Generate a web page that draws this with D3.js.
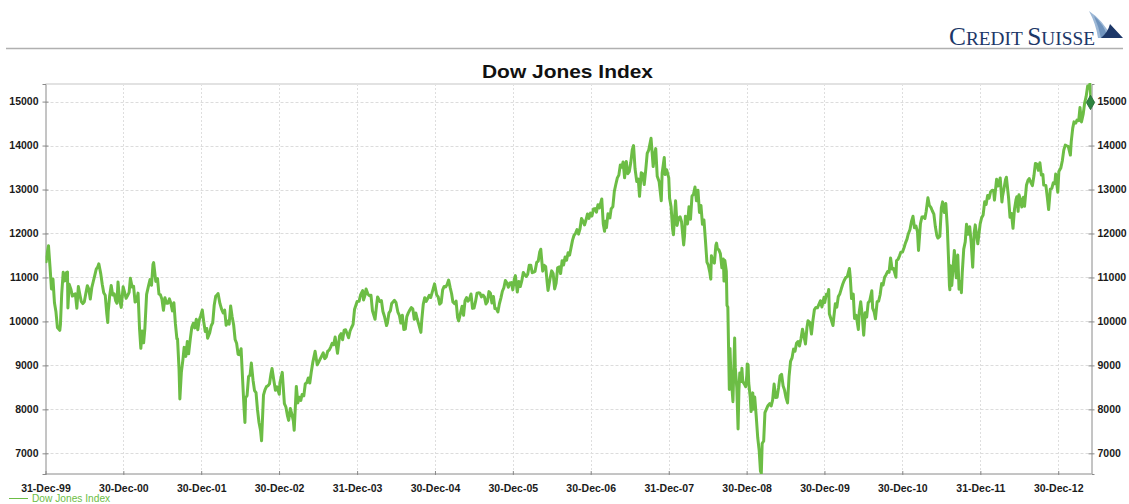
<!DOCTYPE html>
<html><head><meta charset="utf-8">
<script src="https://cdn.jsdelivr.net/npm/d3@7/dist/d3.min.js"></script>
<style>
html,body{margin:0;padding:0;background:#fff;}
svg{display:block;}
</style></head>
<body>
<svg id="chart" width="1129" height="504"></svg>
<script>
const chartTitle = "Dow Jones Index";
const seriesName = "Dow Jones Index";
const yTicks = [7000, 8000, 9000, 10000, 11000, 12000, 13000, 14000, 15000];
const xTickDates = ["1999-12-31","2000-12-30","2001-12-30","2002-12-30","2003-12-31","2004-12-30","2005-12-30","2006-12-30","2007-12-31","2008-12-30","2009-12-30","2010-12-30","2011-12-31","2012-12-30"];
const xTickLabels = ["31-Dec-99","30-Dec-00","30-Dec-01","30-Dec-02","31-Dec-03","30-Dec-04","30-Dec-05","30-Dec-06","31-Dec-07","30-Dec-08","30-Dec-09","30-Dec-10","31-Dec-11","30-Dec-12"];

const dates2000 = ["1999-12-31","2000-01-03","2000-01-07","2000-01-14","2000-01-21","2000-01-28","2000-02-04","2000-02-11","2000-02-18","2000-02-25","2000-03-07","2000-03-10","2000-03-16","2000-03-23","2000-03-31","2000-04-07","2000-04-12","2000-04-14","2000-04-20","2000-04-28","2000-05-05","2000-05-12","2000-05-19","2000-05-26","2000-06-02","2000-06-09","2000-06-16","2000-06-23","2000-06-30","2000-07-07","2000-07-14","2000-07-21","2000-07-28","2000-08-04","2000-08-11","2000-08-18","2000-08-25","2000-09-01","2000-09-06","2000-09-15","2000-09-22","2000-09-29","2000-10-06","2000-10-13","2000-10-18","2000-10-20","2000-10-27","2000-11-03","2000-11-10","2000-11-17","2000-11-24","2000-11-30","2000-12-05","2000-12-08","2000-12-15","2000-12-20","2000-12-29"];
const values2000 = [11497,11357,11522,11723,11251,10739,10963,10425,10219,9862,9796,9929,10630,11119,10922,11111,11125,10306,10844,10734,10577,10609,10627,10300,10794,10614,10449,10405,10448,10635,10813,10733,10511,10767,10908,11046,11192,11239,11310,11088,10847,10651,10596,10192,9975,10226,10590,10817,10602,10630,10470,10415,10898,10712,10434,10319,10787];

const dates2001 = ["2001-01-05","2001-01-12","2001-01-19","2001-01-26","2001-02-01","2001-02-09","2001-02-16","2001-02-23","2001-03-02","2001-03-09","2001-03-16","2001-03-22","2001-03-28","2001-04-04","2001-04-10","2001-04-18","2001-04-27","2001-05-04","2001-05-11","2001-05-18","2001-05-21","2001-05-31","2001-06-08","2001-06-15","2001-06-22","2001-06-29","2001-07-06","2001-07-13","2001-07-20","2001-07-27","2001-08-03","2001-08-10","2001-08-17","2001-08-24","2001-08-31","2001-09-07","2001-09-10","2001-09-17","2001-09-21","2001-09-28","2001-10-05","2001-10-11","2001-10-19","2001-10-26","2001-11-01","2001-11-09","2001-11-16","2001-11-23","2001-11-30","2001-12-07","2001-12-14","2001-12-21","2001-12-28"];
const values2001 = [10662,10525,10587,10659,10983,10781,10799,10441,10466,10644,9823,9389,9785,9515,9845,10615,10810,10951,10821,11301,11337,10911,10977,10623,10604,10502,10252,10539,10416,10416,10512,10416,10240,10423,9950,9606,9605,8921,8236,8848,9120,9410,9205,9545,9263,9609,9867,9960,9852,10049,9811,10035,10136];

const dates2002 = ["2002-01-04","2002-01-11","2002-01-18","2002-01-25","2002-01-29","2002-02-08","2002-02-15","2002-02-22","2002-03-01","2002-03-08","2002-03-15","2002-03-19","2002-03-28","2002-04-05","2002-04-12","2002-04-19","2002-04-26","2002-05-03","2002-05-10","2002-05-17","2002-05-24","2002-05-31","2002-06-07","2002-06-14","2002-06-21","2002-06-28","2002-07-05","2002-07-12","2002-07-19","2002-07-23","2002-07-26","2002-08-02","2002-08-09","2002-08-16","2002-08-22","2002-08-30","2002-09-06","2002-09-13","2002-09-20","2002-09-27","2002-10-04","2002-10-09","2002-10-18","2002-10-25","2002-11-01","2002-11-08","2002-11-15","2002-11-22","2002-11-27","2002-12-06","2002-12-13","2002-12-20","2002-12-31"];
const values2002 = [10259,9987,9771,9840,9618,9745,9903,9969,10368,10572,10608,10635,10404,10271,10191,10257,9911,10006,9939,10353,10105,9925,9589,9503,9253,9243,9380,8685,8019,7702,8264,8313,8745,8778,9053,8664,8427,8380,7987,7701,7528,7286,8322,8443,8517,8537,8579,8805,8931,8645,8433,8512,8342];

const dates2003 = ["2003-01-03","2003-01-14","2003-01-24","2003-01-31","2003-02-07","2003-02-13","2003-02-21","2003-02-28","2003-03-07","2003-03-11","2003-03-21","2003-03-28","2003-04-04","2003-04-11","2003-04-17","2003-04-25","2003-05-02","2003-05-09","2003-05-16","2003-05-23","2003-05-30","2003-06-06","2003-06-17","2003-06-27","2003-07-03","2003-07-14","2003-07-25","2003-08-01","2003-08-08","2003-08-15","2003-08-22","2003-08-29","2003-09-05","2003-09-12","2003-09-19","2003-09-30","2003-10-10","2003-10-17","2003-10-24","2003-10-31","2003-11-07","2003-11-21","2003-11-28","2003-12-05","2003-12-12","2003-12-19","2003-12-31"];
const values2003 = [8601,8842,8131,8054,7865,7749,8018,7891,7740,7524,8522,8146,8277,8203,8338,8307,8583,8604,8713,8601,8850,9062,9323,9012,9070,9178,9284,9153,9191,9321,9348,9416,9503,9471,9644,9275,9674,9722,9583,9801,9810,9629,9782,9862,9935,10278,10454];

const dates2004 = ["2004-01-09","2004-01-16","2004-01-26","2004-01-30","2004-02-06","2004-02-11","2004-02-20","2004-02-27","2004-03-05","2004-03-12","2004-03-24","2004-03-31","2004-04-05","2004-04-16","2004-04-23","2004-04-30","2004-05-07","2004-05-17","2004-05-21","2004-05-28","2004-06-04","2004-06-10","2004-06-23","2004-06-30","2004-07-09","2004-07-16","2004-07-23","2004-07-30","2004-08-06","2004-08-13","2004-08-20","2004-08-27","2004-09-03","2004-09-10","2004-09-17","2004-09-24","2004-10-01","2004-10-08","2004-10-15","2004-10-25","2004-10-29","2004-11-05","2004-11-12","2004-11-19","2004-11-26","2004-12-03","2004-12-10","2004-12-17","2004-12-28","2004-12-31"];
const values2004 = [10458,10601,10702,10488,10593,10737,10620,10584,10595,10240,10048,10358,10558,10452,10472,10225,10117,9906,9966,10188,10242,10410,10479,10435,10214,10140,9962,10140,9815,9825,10110,10195,10260,10314,10285,10047,10193,10055,9933,9750,10027,10387,10540,10457,10522,10592,10544,10661,10854,10783];

const dates2005 = ["2005-01-07","2005-01-14","2005-01-21","2005-01-28","2005-02-04","2005-02-11","2005-02-18","2005-02-25","2005-03-04","2005-03-11","2005-03-18","2005-03-24","2005-04-01","2005-04-08","2005-04-15","2005-04-20","2005-04-29","2005-05-06","2005-05-13","2005-05-20","2005-05-27","2005-06-03","2005-06-10","2005-06-17","2005-06-24","2005-07-01","2005-07-08","2005-07-15","2005-07-22","2005-07-29","2005-08-05","2005-08-12","2005-08-19","2005-08-26","2005-09-02","2005-09-09","2005-09-16","2005-09-23","2005-09-30","2005-10-07","2005-10-14","2005-10-21","2005-10-28","2005-11-04","2005-11-11","2005-11-18","2005-11-25","2005-12-02","2005-12-09","2005-12-16","2005-12-23","2005-12-30"];
const values2005 = [10603,10558,10393,10427,10716,10796,10785,10841,10940,10774,10629,10442,10404,10461,10088,10012,10193,10346,10140,10471,10542,10460,10512,10623,10297,10303,10449,10640,10651,10641,10558,10600,10559,10397,10447,10678,10642,10420,10569,10292,10287,10215,10402,10531,10686,10766,10931,10877,10778,10875,10883,10718];

const dates2006 = ["2006-01-06","2006-01-11","2006-01-20","2006-01-27","2006-02-03","2006-02-10","2006-02-17","2006-02-24","2006-03-03","2006-03-10","2006-03-17","2006-03-24","2006-03-31","2006-04-07","2006-04-13","2006-04-21","2006-04-28","2006-05-05","2006-05-10","2006-05-19","2006-05-26","2006-06-02","2006-06-09","2006-06-13","2006-06-23","2006-06-30","2006-07-07","2006-07-14","2006-07-21","2006-07-28","2006-08-04","2006-08-11","2006-08-18","2006-08-25","2006-09-01","2006-09-08","2006-09-15","2006-09-22","2006-09-29","2006-10-06","2006-10-13","2006-10-20","2006-10-27","2006-11-03","2006-11-10","2006-11-17","2006-11-24","2006-12-01","2006-12-08","2006-12-15","2006-12-22","2006-12-29"];
const values2006 = [10959,11043,10667,10907,10794,10920,11115,11062,11022,11076,11279,11280,11109,11121,11137,11347,11367,11578,11642,11144,11278,11247,10891,10706,10989,11150,11091,10739,10869,11219,11240,11088,11381,11284,11464,11392,11560,11509,11679,11850,11960,12002,12090,11986,12108,12342,12280,12194,12307,12445,12343,12463];

const dates2007 = ["2007-01-05","2007-01-12","2007-01-19","2007-01-26","2007-02-02","2007-02-09","2007-02-20","2007-02-27","2007-03-05","2007-03-09","2007-03-14","2007-03-21","2007-03-30","2007-04-05","2007-04-13","2007-04-20","2007-04-27","2007-05-04","2007-05-11","2007-05-18","2007-05-25","2007-05-31","2007-06-07","2007-06-15","2007-06-22","2007-06-29","2007-07-06","2007-07-13","2007-07-19","2007-07-26","2007-08-03","2007-08-10","2007-08-16","2007-08-24","2007-08-31","2007-09-07","2007-09-14","2007-09-21","2007-09-28","2007-10-09","2007-10-19","2007-10-26","2007-10-31","2007-11-07","2007-11-16","2007-11-26","2007-11-30","2007-12-10","2007-12-14","2007-12-21","2007-12-31"];
const values2007 = [12398,12556,12566,12487,12653,12581,12786,12216,12050,12277,12133,12447,12354,12560,12613,12962,13121,13265,13327,13556,13507,13627,13266,13639,13361,13409,13612,13908,14000,13473,13182,13240,12846,13379,13358,13113,13443,13820,13896,14164,13522,13807,13930,13300,13176,12743,13372,13727,13339,13450,13265];

const dates2008 = ["2008-01-04","2008-01-11","2008-01-18","2008-01-22","2008-01-25","2008-02-01","2008-02-08","2008-02-15","2008-02-22","2008-02-29","2008-03-07","2008-03-10","2008-03-14","2008-03-18","2008-03-28","2008-04-04","2008-04-11","2008-04-18","2008-04-25","2008-05-02","2008-05-09","2008-05-16","2008-05-23","2008-05-30","2008-06-06","2008-06-13","2008-06-20","2008-06-27","2008-07-03","2008-07-11","2008-07-15","2008-07-18","2008-07-25","2008-08-01","2008-08-08","2008-08-11","2008-08-15","2008-08-22","2008-08-29","2008-09-05","2008-09-12","2008-09-15","2008-09-19","2008-09-26","2008-09-29","2008-10-03","2008-10-10","2008-10-13","2008-10-17","2008-10-22","2008-10-27","2008-11-04","2008-11-07","2008-11-14","2008-11-20","2008-11-24","2008-11-28","2008-12-05","2008-12-08","2008-12-12","2008-12-19","2008-12-26","2008-12-31"];
const values2008 = [12800,12606,12100,11971,12207,12743,12183,12348,12381,12266,11894,11740,11951,12392,12216,12609,12325,12849,12891,13058,12745,12986,12479,12638,12209,12307,11843,11347,11288,11100,10962,11496,11370,11326,11734,11782,11659,11628,11543,11220,11421,10917,11388,11143,10365,10325,8451,9387,8852,8519,8175,9625,8943,8497,7552,8443,8829,8635,8934,8629,8579,8515,8776];

const dates2009 = ["2009-01-02","2009-01-06","2009-01-09","2009-01-16","2009-01-20","2009-01-28","2009-01-30","2009-02-06","2009-02-13","2009-02-20","2009-02-27","2009-03-05","2009-03-09","2009-03-13","2009-03-20","2009-03-26","2009-04-03","2009-04-09","2009-04-17","2009-04-24","2009-05-01","2009-05-08","2009-05-15","2009-05-22","2009-05-29","2009-06-05","2009-06-12","2009-06-19","2009-06-26","2009-07-02","2009-07-10","2009-07-17","2009-07-24","2009-07-31","2009-08-07","2009-08-14","2009-08-21","2009-08-28","2009-09-04","2009-09-11","2009-09-18","2009-09-25","2009-10-02","2009-10-09","2009-10-14","2009-10-23","2009-10-30","2009-11-06","2009-11-13","2009-11-20","2009-11-27","2009-12-04","2009-12-11","2009-12-18","2009-12-28","2009-12-31"];
const values2009 = [9034,9015,8599,8281,7949,8375,8001,8280,7850,7366,7063,6594,6547,7224,7279,7925,8018,8083,8131,8076,8212,8575,8268,8277,8500,8764,8799,8539,8438,8280,8146,8743,9093,9171,9370,9321,9505,9544,9441,9605,9820,9665,9487,9865,10015,9972,9713,10023,10270,10318,10310,10389,10471,10329,10547,10428];

const dates2010 = ["2010-01-08","2010-01-15","2010-01-19","2010-01-22","2010-01-29","2010-02-08","2010-02-12","2010-02-19","2010-02-26","2010-03-05","2010-03-12","2010-03-19","2010-03-26","2010-04-01","2010-04-09","2010-04-16","2010-04-26","2010-04-30","2010-05-06","2010-05-14","2010-05-20","2010-05-28","2010-06-07","2010-06-11","2010-06-18","2010-06-25","2010-07-02","2010-07-09","2010-07-16","2010-07-23","2010-07-30","2010-08-09","2010-08-13","2010-08-20","2010-08-26","2010-09-03","2010-09-10","2010-09-17","2010-09-24","2010-10-01","2010-10-08","2010-10-15","2010-10-22","2010-10-29","2010-11-05","2010-11-12","2010-11-19","2010-11-30","2010-12-03","2010-12-10","2010-12-17","2010-12-23","2010-12-31"];
const values2010 = [10618,10610,10725,10172,10067,9908,10099,10402,10325,10566,10625,10742,10850,10927,10997,11019,11205,11009,10520,10620,10068,10137,9816,10212,10450,10144,9686,10198,10098,10425,10466,10698,10303,10214,10060,10448,10462,10607,10860,10829,11006,11063,11133,11118,11444,11193,11204,11006,11382,11410,11492,11573,11578];

const dates2011 = ["2011-01-07","2011-01-14","2011-01-21","2011-01-27","2011-02-04","2011-02-11","2011-02-18","2011-02-25","2011-03-04","2011-03-11","2011-03-16","2011-03-25","2011-04-01","2011-04-08","2011-04-15","2011-04-21","2011-04-29","2011-05-06","2011-05-13","2011-05-20","2011-05-27","2011-06-03","2011-06-10","2011-06-15","2011-06-24","2011-07-01","2011-07-07","2011-07-15","2011-07-22","2011-07-29","2011-08-04","2011-08-08","2011-08-10","2011-08-12","2011-08-19","2011-08-26","2011-08-31","2011-09-09","2011-09-16","2011-09-22","2011-09-30","2011-10-03","2011-10-07","2011-10-14","2011-10-21","2011-10-27","2011-11-04","2011-11-11","2011-11-18","2011-11-25","2011-12-02","2011-12-07","2011-12-16","2011-12-19","2011-12-30"];
const values2011 = [11675,11787,11871,11990,12092,12273,12391,12130,12170,12044,11613,12221,12376,12380,12341,12506,12811,12638,12595,12512,12441,12151,11952,11897,11934,12583,12719,12479,12681,12143,11383,10810,10720,11269,10817,11285,11614,10992,11509,10733,10913,10655,11103,11644,11809,12209,11983,12153,11796,11232,12019,12196,11866,11766,12218];

const dates2012 = ["2012-01-06","2012-01-13","2012-01-20","2012-01-27","2012-02-03","2012-02-10","2012-02-17","2012-02-24","2012-03-02","2012-03-06","2012-03-16","2012-03-23","2012-04-02","2012-04-10","2012-04-13","2012-04-20","2012-04-27","2012-05-01","2012-05-11","2012-05-18","2012-05-25","2012-06-01","2012-06-08","2012-06-15","2012-06-19","2012-06-25","2012-06-29","2012-07-06","2012-07-12","2012-07-20","2012-07-25","2012-08-03","2012-08-10","2012-08-16","2012-08-24","2012-08-31","2012-09-07","2012-09-14","2012-09-21","2012-09-28","2012-10-05","2012-10-12","2012-10-19","2012-10-23","2012-11-02","2012-11-09","2012-11-15","2012-11-23","2012-11-30","2012-12-07","2012-12-14","2012-12-18","2012-12-28"];
const values2012 = [12360,12422,12720,12660,12862,12801,12950,12983,12978,12759,13233,13081,13264,12716,12850,13029,13228,13280,12821,12369,12455,12119,12554,12767,12837,12503,12880,12772,12604,12822,12617,13096,13207,13250,13158,13090,13306,13594,13579,13437,13610,13328,13343,13102,13093,12815,12543,13010,13026,13155,13135,13351,12938];

const dates2013 = ["2013-01-02","2013-01-11","2013-01-18","2013-01-25","2013-02-01","2013-02-08","2013-02-15","2013-02-25","2013-03-01","2013-03-08","2013-03-14","2013-03-22","2013-03-28","2013-04-05","2013-04-11","2013-04-18","2013-04-26","2013-05-03","2013-05-10","2013-05-17","2013-05-22","2013-05-28","2013-05-31","2013-06-04"];
const values2013 = [13412,13488,13650,13896,14010,13993,13982,13784,14090,14397,14539,14512,14579,14565,14865,14537,14712,14974,15118,15355,15307,15409,15116,14980];

const parse = d3.timeParse("%Y-%m-%d");
const allDates = [].concat(dates2000,dates2001,dates2002,dates2003,dates2004,dates2005,dates2006,dates2007,dates2008,dates2009,dates2010,dates2011,dates2012,dates2013);
const allValues = [].concat(values2000,values2001,values2002,values2003,values2004,values2005,values2006,values2007,values2008,values2009,values2010,values2011,values2012,values2013);
const data = allDates.map((d,i)=>({date:parse(d), value:allValues[i]}));

const svg = d3.select("#chart");
const L = 45.5, R = 1091.5, T = 84, B = 474;
const x = d3.scaleTime().domain([parse("1999-12-31"), parse("2013-06-04")]).range([L, R]);
const y = d3.scaleLinear().domain([6530, 15400]).range([B, T]);
const fontFam = "'Liberation Sans', Arial, sans-serif";

// header logo
svg.append("line").attr("x1",6).attr("x2",1123).attr("y1",48.5).attr("y2",48.5)
  .attr("stroke","#b0b0b0").attr("stroke-width",1.5);
const logo = svg.append("g");
logo.append("text").attr("x",949).attr("y",45)
  .attr("font-family","'Liberation Serif', 'DejaVu Serif', serif")
  .attr("font-size",25).attr("fill","#1c3768")
  .attr("textLength",146).attr("lengthAdjust","spacingAndGlyphs")
  .call(t=>{
    t.append("tspan").text("C");
    t.append("tspan").attr("font-size",19).text("REDIT ");
    t.append("tspan").text("S");
    t.append("tspan").attr("font-size",19).text("UISSE");
  });
logo.append("path").attr("d","M1089,11 Q1103,20 1112,38 L1098,38 Q1096,24 1089,11 Z").attr("fill","#9db8d6");
logo.append("path").attr("d","M1094,16 Q1104,24 1108,38 L1101,38 Q1099,27 1094,16 Z").attr("fill","#6f93bd");
logo.append("path").attr("d","M1101,38 L1123,38 L1110,24 Q1108,32 1101,38 Z").attr("fill","#1c3768");

// title
svg.append("text").attr("x",567.5).attr("y",78).attr("text-anchor","middle")
  .attr("font-family",fontFam).attr("font-weight","bold").attr("font-size",18.5)
  .attr("fill","#111").attr("textLength",171).attr("lengthAdjust","spacingAndGlyphs")
  .text(chartTitle);

// grid
const grid = svg.append("g");
grid.selectAll(".hg").data(yTicks).join("line")
  .attr("x1",L).attr("x2",R).attr("y1",d=>Math.round(y(d))+0.5).attr("y2",d=>Math.round(y(d))+0.5)
  .attr("stroke","#dcdcdc").attr("stroke-dasharray","3,2");
grid.selectAll(".vg").data(xTickDates.slice(1)).join("line")
  .attr("x1",d=>Math.round(x(parse(d)))+0.5).attr("x2",d=>Math.round(x(parse(d)))+0.5)
  .attr("y1",T).attr("y2",B)
  .attr("stroke","#dedede").attr("stroke-dasharray","2,2");
svg.append("line").attr("x1",L).attr("x2",R).attr("y1",T).attr("y2",T)
  .attr("stroke","#e2e2e2").attr("stroke-width",2);

// axes
const leftAxis = d3.axisLeft(y).tickValues(yTicks).tickSize(3).tickPadding(4).tickFormat(d3.format("d"));
const rightAxis = d3.axisRight(y).tickValues(yTicks).tickSize(3).tickPadding(3).tickFormat(d3.format("d"));
const bottomAxis = d3.axisBottom(x).tickValues(xTickDates.map(parse)).tickSize(1).tickPadding(8)
  .tickFormat((d,i)=>xTickLabels[i]);

function styleAxis(g){
  g.select(".domain").attr("stroke","#8a8a8a");
  g.selectAll(".tick line").attr("stroke","#8a8a8a");
  g.selectAll(".tick text").attr("fill","#1a1a1a").attr("font-family",fontFam)
    .attr("font-size",10.5).attr("font-weight","bold");
}
svg.append("g").attr("transform",`translate(${L},0)`).call(leftAxis).call(styleAxis)
  .call(g=>g.selectAll(".tick line").attr("x2",-3).attr("x1",3));
svg.append("g").attr("transform",`translate(${R},0)`).call(rightAxis).call(styleAxis)
  .call(g=>g.selectAll(".tick line").attr("x1",-3).attr("x2",3));
svg.append("g").attr("transform",`translate(0,${B})`).call(bottomAxis).call(styleAxis)
  .call(g=>{g.select(".domain").attr("d",`M${L},0H${R}`); g.selectAll(".tick line").attr("y1",-3).attr("y2",1);})
  .call(g=>g.selectAll(".tick text").attr("dy","0.9em"));

// line
svg.append("clipPath").attr("id","clip").append("rect").attr("x",L).attr("y",T-1).attr("width",R-L).attr("height",B-T+1);
const line = d3.line().x(d=>x(d.date)).y(d=>y(d.value));
svg.append("path").datum(data).attr("clip-path","url(#clip)")
  .attr("fill","none").attr("stroke","#6cbd45").attr("stroke-width",3)
  .attr("stroke-linejoin","round").attr("d",line);

// end marker
const last = data[data.length-1];
svg.append("path").attr("d",d3.symbol(d3.symbolDiamond,60)())
  .attr("transform",`translate(${x(last.date)-1},${y(last.value)})`)
  .attr("fill","#2e8540").attr("stroke","#1f6b30").attr("stroke-width",0.8);

// legend
svg.append("line").attr("x1",9).attr("x2",28).attr("y1",498.5).attr("y2",498.5)
  .attr("stroke","#6cbd45").attr("stroke-width",1);
svg.append("text").attr("x",32).attr("y",502).attr("font-family",fontFam)
  .attr("font-size",10.2).attr("fill","#6cbd45").text(seriesName);
</script>
</body></html>
